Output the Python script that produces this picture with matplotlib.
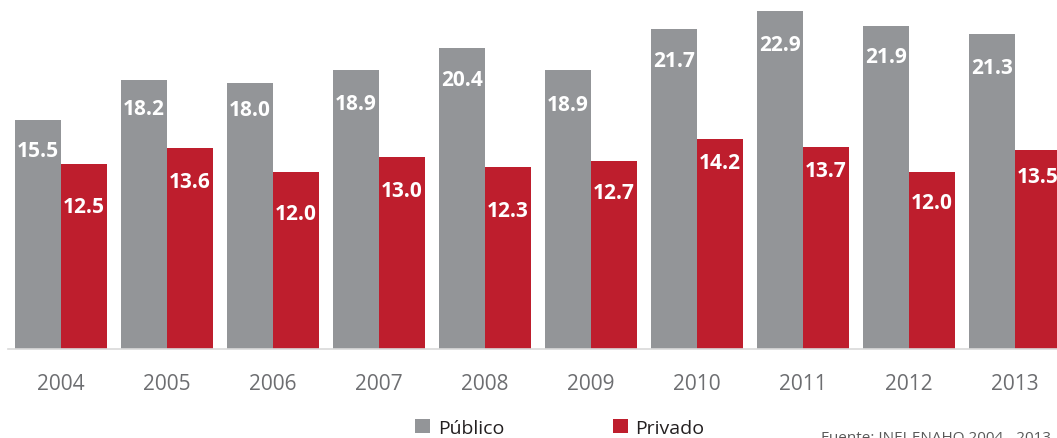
import numpy as np
import matplotlib.pyplot as plt

plt.rcParams['font.family'] = ['Open Sans', 'DejaVu Sans']

# Data
years = ['2004', '2005', '2006', '2007', '2008', '2009', '2010', '2011', '2012', '2013']
publico = [15.5, 18.2, 18.0, 18.9, 20.4, 18.9, 21.7, 22.9, 21.9, 21.3]
privado = [12.5, 13.6, 12.0, 13.0, 12.3, 12.7, 14.2, 13.7, 12.0, 13.5]

# label drop below bar top (points), as placed in the original
drop_pub = [22, 20, 19, 24, 23, 25, 23, 24, 22, 24]
drop_priv = [30, 24, 30, 24, 31, 22, 17, 17, 22, 19]

gray = '#939598'
red = '#be1e2d'

fig = plt.figure(figsize=(10.57, 4.39), dpi=100)
ax = fig.add_axes([8 / 1057, 89 / 439, 1060 / 1057, 350 / 439])

x = np.arange(len(years))
w = 0.435
b1 = ax.bar(x - w / 2, publico, w, color=gray, label='Público')
b2 = ax.bar(x + w / 2, privado, w, color=red, label='Privado')

for bars, vals, drops in [(b1, publico, drop_pub), (b2, privado, drop_priv)]:
    for bar, v, d in zip(bars, vals, drops):
        ax.annotate(f'{v:.1f}', (bar.get_x() + bar.get_width() / 2, v),
                    xytext=(0, -d), textcoords='offset points',
                    ha='center', va='center', color='white',
                    fontsize=15, fontweight='bold')

ax.set_xlim(-0.5, 9.5)
ax.set_ylim(0, 23.7)
ax.set_xticks(x)
ax.set_xticklabels(years, fontsize=15, color='#6d6e71')
ax.tick_params(axis='x', length=0, pad=17)
ax.set_yticks([])
for s in ['top', 'right', 'left']:
    ax.spines[s].set_visible(False)
ax.spines['bottom'].set_color('#d9d9d9')
ax.spines['bottom'].set_linewidth(1.2)

fig.legend(handles=[b1, b2], loc='center', bbox_to_anchor=(560 / 1057, 10 / 439),
           ncol=2, frameon=False, fontsize=14, handlelength=0.75, handleheight=0.75,
           handletextpad=0.4, columnspacing=5.6, labelcolor='#231f20')

fig.text(821 / 1057, 8 / 439, 'Fuente: INEI-ENAHO 2004 - 2013', fontsize=11,
         color='#595959', va='top', ha='left')

fig.savefig('out.png', dpi=100)
